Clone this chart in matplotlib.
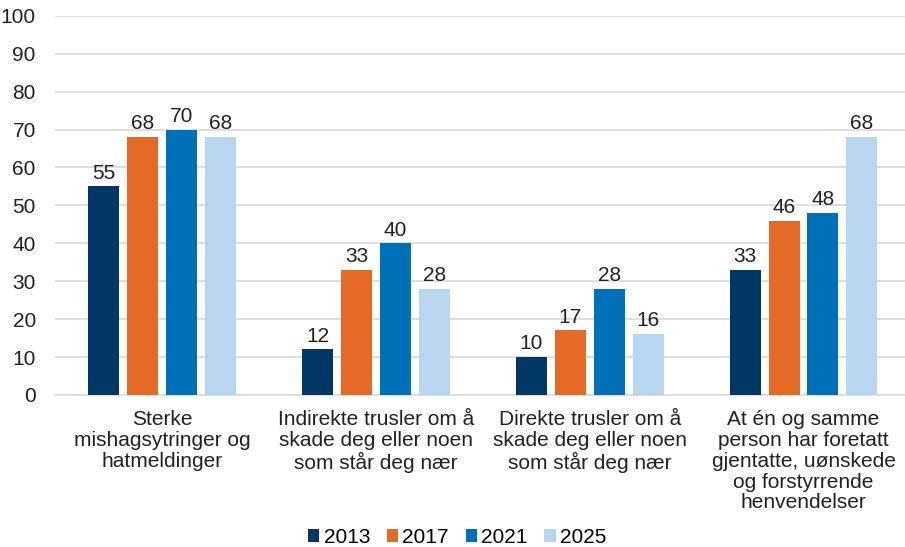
import matplotlib.pyplot as plt
import numpy as np

plt.rcParams['font.family'] = ['Liberation Sans', 'DejaVu Sans']

categories = [
    'Sterke\nmishagsytringer og\nhatmeldinger',
    'Indirekte trusler om å\nskade deg eller noen\nsom står deg nær',
    'Direkte trusler om å\nskade deg eller noen\nsom står deg nær',
    'At én og samme\nperson har foretatt\ngjentatte, uønskede\nog forstyrrende\nhenvendelser',
]
years = ['2013', '2017', '2021', '2025']
values = {
    '2013': [55, 12, 10, 33],
    '2017': [68, 33, 17, 46],
    '2021': [70, 40, 28, 48],
    '2025': [68, 28, 16, 68],
}
colors = ['#003764', '#E56A25', '#0070B8', '#B8D6F0']

fig = plt.figure(figsize=(9.05, 5.47), dpi=100)
ax = fig.add_axes([0.061, 0.278, 0.945, 0.693])

x = np.arange(len(categories))
step = 0.182
width = 0.145
for i, (yr, c) in enumerate(zip(years, colors)):
    pos = x + (i - 1.5) * step
    bars = ax.bar(pos, values[yr], width, color=c, label=yr, zorder=3)
    for b, v in zip(bars, values[yr]):
        ax.text(b.get_x() + b.get_width() / 2, v + 1.0, str(v),
                ha='center', va='bottom', fontsize=15, color='#222222')

ax.set_xlim(-0.5, len(categories) - 0.5)
ax.set_ylim(0, 100)
ax.set_yticks(range(0, 101, 10))
ax.grid(axis='y', color='#D9D9D9', linewidth=1.2, zorder=0)
for s in ['top', 'right', 'left']:
    ax.spines[s].set_visible(False)
ax.spines['bottom'].set_color('#D9D9D9')
ax.spines['bottom'].set_linewidth(1.2)
ax.tick_params(axis='both', length=0, labelsize=15, colors='#222222')
ax.tick_params(axis='y', pad=14)
ax.tick_params(axis='x', pad=11)
ax.set_xticks(x)
ax.set_xticklabels(categories, fontsize=15, linespacing=1.12)

ax.legend(loc='center', bbox_to_anchor=(0.47, -0.376), ncol=4, frameon=False,
          fontsize=15, handlelength=0.55, handleheight=0.55, handletextpad=0.2,
          columnspacing=0.8, bbox_transform=ax.transAxes)

fig.savefig('out.png', dpi=100)
